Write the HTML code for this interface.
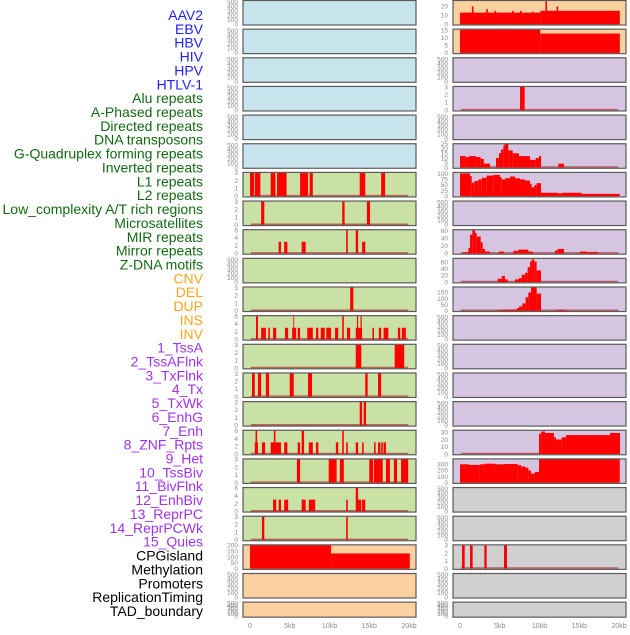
<!DOCTYPE html>
<html><head><meta charset="utf-8">
<style>
html,body{margin:0;padding:0;background:#fff;}
body{width:630px;height:630px;overflow:hidden;font-family:"Liberation Sans",sans-serif;}
</style></head>
<body>
<svg id="chart" width="630" height="630" xmlns="http://www.w3.org/2000/svg" font-family="Liberation Sans, sans-serif"></svg>
<script>
const labels = ["AAV2","EBV","HBV","HIV","HPV","HTLV-1","Alu repeats","A-Phased repeats","Directed repeats","DNA transposons","G-Quadruplex forming repeats","Inverted repeats","L1 repeats","L2 repeats","Low_complexity A/T rich regions","Microsatellites","MIR repeats","Mirror repeats","Z-DNA motifs","CNV","DEL","DUP","INS","INV","1_TssA","2_TssAFlnk","3_TxFlnk","4_Tx","5_TxWk","6_EnhG","7_Enh","8_ZNF_Rpts","9_Het","10_TssBiv","11_BivFlnk","12_EnhBiv","13_ReprPC","14_ReprPCWk","15_Quies","CPGisland","Methylation","Promoters","ReplicationTiming","TAD_boundary"];
const groupOf = ["v","v","v","v","v","v","r","r","r","r","r","r","r","r","r","r","r","r","r","s","s","s","s","s","c","c","c","c","c","c","c","c","c","c","c","c","c","c","c","o","o","o","o","o"];
const xTickLabels = ["0","5kb","10kb","15kb","20kb"];
const xTickValues = [0,5,10,15,20];
const emptyTicks = [0,100,200,300,400,500];
const ticks3 = [0,1,2,3];
const ticks6 = [0,2,4,6];
// bars: [startKb, endKb, count]
const barsAlu = [[0,0.5,3],[0.6,1.3,3],[2.6,3.2,3],[3.4,4.6,3],[6.3,7.3,3],[7.5,7.9,3],[13.8,14.5,3],[16.5,17.0,3]];
const barsAPhased = [[1.4,1.8,3],[11.6,11.9,3],[14.7,15.1,3]];
const barsDirected = [[3.6,3.9,3],[4.3,4.7,3],[6.5,7.0,3],[12.1,12.3,6],[13.3,13.6,6],[14.1,14.5,3]];
const barsGQuad = [[12.6,13.0,3]];
const barsInverted = [[0.75,1.0,6],[1.4,2.0,3],[2.3,2.5,3],[2.9,3.3,3],[4.4,4.8,3],[5.3,5.8,3],[5.45,5.55,6],[6.0,6.3,3],[7.2,7.9,3],[8.3,8.6,3],[8.9,9.4,3],[9.6,10.2,3],[10.7,11.1,3],[11.6,11.8,6],[12.2,12.6,3],[13.3,14.1,3],[13.45,13.6,6],[13.9,14.05,6],[15.4,15.6,3],[16.2,16.5,3],[16.8,17.4,3],[18.6,18.9,3],[19.1,19.6,3]];
const barsL1 = [[13.3,14.0,3],[18.2,19.4,3]];
const barsL2 = [[0.25,0.6,3],[1.0,1.4,3],[2.0,2.4,3],[5.0,5.5,3],[7.3,7.8,3],[14.5,14.8,3],[16.1,16.5,3]];
const barsLowComplex = [[13.8,14.1,3],[14.3,14.6,3]];
const barsMicrosat = [[0.6,1.0,3],[0.7,0.9,6],[1.5,1.9,3],[2.6,3.9,3],[3.0,3.2,6],[4.3,4.7,3],[6.0,6.3,3],[6.5,6.8,6],[7.4,7.9,3],[8.3,8.6,3],[10.8,11.1,3],[11.6,11.8,6],[12.1,12.3,3],[13.3,13.6,3],[14.1,14.3,3],[15.6,15.8,3],[16.1,16.4,3],[16.5,16.7,3],[16.8,17.1,3]];
const barsMIR = [[5.9,6.3,3],[9.9,10.9,3],[11.3,11.8,3],[15.0,15.5,3],[15.6,16.7,3],[17.1,17.6,3],[18.1,18.5,3],[19.0,19.9,3]];
const barsMirror = [[2.9,3.3,3],[3.6,3.9,3],[4.3,4.8,3],[6.5,7.0,3],[7.4,8.2,3],[12.1,12.3,3],[13.3,13.6,6],[13.6,14.0,3],[14.1,14.5,3]];
const barsZDNA = [[1.5,1.8,3],[12.1,12.3,3]];
const barsCNV = [[0,10.2,200],[10.2,20.1,130]];
const barsINS = [[0,10.1,13],[10.1,20.1,15],[1.5,1.7,20],[3.3,3.5,17],[4.35,4.55,15],[6.55,6.75,15],[7.55,7.75,15],[9.05,9.25,14],[10.75,10.95,26],[12.15,12.35,20]];
const barsINV = [[0,10.1,15.4],[10.1,20.1,12.8]];
const barsTssAFlnk = [[7.55,8.13,3]];
const barsTx = [[0,0.71,12],[0.71,1.13,11],[1.13,2.0,12],[2.0,2.6,11],[2.6,3.0,9],[3.0,3.77,4],[4.53,4.9,10],[4.9,5.16,15],[5.16,5.45,19],[5.45,5.6,23],[5.6,6.08,25],[6.08,6.62,18],[6.62,7.42,15],[7.42,8.8,12],[8.8,9.52,8],[9.52,9.94,10],[9.94,10.2,12],[12.37,13.08,4]];
const barsTxWk = [[0,1.26,102],[1.26,1.47,90],[1.47,1.8,60],[1.8,2.3,68],[2.3,2.73,75],[2.73,3.35,82],[3.35,4.19,92],[4.19,5.03,95],[5.03,5.24,85],[5.24,5.66,75],[5.66,6.29,80],[6.29,6.92,88],[6.92,7.55,80],[7.55,8.18,75],[8.18,8.8,70],[8.8,9.01,55],[9.01,9.35,40],[9.35,9.64,50],[9.64,10.19,58],[10.19,12.37,15],[12.37,12.79,12],[12.79,15.3,15],[15.3,20.1,10]];
const barsEnh = [[0.42,1.05,3],[1.05,1.26,15],[1.26,1.55,50],[1.55,1.89,62],[1.89,2.1,55],[2.1,2.6,45],[2.6,2.85,30],[2.85,3.14,12],[3.14,3.77,5],[4.9,5.53,5],[6.7,7.34,7],[7.34,7.76,10],[7.76,8.6,10],[8.6,9.14,5],[11.95,12.28,8],[12.28,13.08,12],[15.1,15.93,5],[15.93,17.4,4]];
const barsZNF = [[4.74,5.24,10],[5.24,5.66,18],[5.66,6.0,8],[6.92,7.42,8],[7.42,7.76,12],[7.76,8.18,22],[8.18,8.51,28],[8.51,8.8,45],[8.8,9.01,62],[9.01,9.35,68],[9.35,9.64,62],[9.64,10.19,35]];
const barsHet = [[4.74,5.24,5],[5.24,6.08,8],[6.08,7.13,10],[7.13,7.42,20],[7.42,7.84,35],[7.84,8.26,60],[8.26,8.6,110],[8.6,8.93,150],[8.93,9.64,190],[9.64,10.19,140],[12.16,13.2,8]];
const barsReprPCWk = [[9.94,10.2,28],[10.2,10.69,31],[10.69,11.82,29],[11.82,12.07,23],[12.07,12.79,20],[12.79,13.33,23],[13.33,18.87,26],[18.87,20.13,29]];
const barsQuies = [[0,1.13,300],[1.13,2.5,290],[2.5,3.14,300],[3.14,4.4,310],[4.4,5.66,300],[5.66,7.25,305],[7.25,7.68,285],[7.68,8.18,265],[8.18,8.6,245],[8.6,8.93,200],[8.93,9.43,150],[9.43,9.94,175],[9.94,20.1,380]];
const barsPromoters = [[0.25,0.59,3],[1.26,1.59,3],[3.06,3.35,3],[5.53,5.91,3]];

const E = null;
// per panel: [bars, ticks, ymax]  (column-major: left 22, right 22)
const panelBars = [E,E,E,E,E,E,barsAlu,barsAPhased,barsDirected,E,barsGQuad,barsInverted,barsL1,barsL2,barsLowComplex,barsMicrosat,barsMIR,barsMirror,barsZDNA,barsCNV,E,E,
  barsINS,barsINV,E,barsTssAFlnk,E,barsTx,barsTxWk,E,barsEnh,barsZNF,barsHet,E,E,E,E,barsReprPCWk,barsQuies,E,E,barsPromoters,E,E];
const panelTicks = [E,E,E,E,E,E,ticks3,ticks3,ticks6,E,ticks3,ticks6,ticks3,ticks3,ticks3,ticks6,ticks3,ticks6,ticks3,[0,50,100,150,200],E,E,
  [0,10,20],[0,5,10,15],E,ticks3,E,[0,5,10,15,20,25],[0,25,50,75,100],E,[0,20,40,60],[0,20,40,60],[0,50,100,150],E,E,E,E,[0,10,20,30],[0,100,200,300],E,E,ticks3,E,E];
const panelMax = [E,E,E,E,E,E,3,3,6,E,3,6,3,3,3,6,3,6,3,200,E,E,
  26,15.4,E,3,E,24.5,104,E,62,70,190,E,E,E,E,32,380,E,E,3,E,E];

const svg = document.getElementById('chart');
const NS = 'http://www.w3.org/2000/svg';
function mk(tag, attrs, parent){ const el=document.createElementNS(NS,tag); for(const k in attrs) el.setAttribute(k,attrs[k]); (parent||svg).appendChild(el); return el; }

const labelColors = {v:'#1f1fff',r:'#126b12',s:'#ffa520',c:'#a033ee',o:'#000000'};
labels.forEach((t,j)=>{
  const el = mk('text',{x:203,y:15+j*13.86+5,'text-anchor':'end','font-size':'14',fill:labelColors[groupOf[j]]});
  el.textContent = t;
  
  
});

function bgColor(col,row){
  if(col===0){ if(row<6) return '#c8e4ec'; if(row<19) return '#c9e1a5'; return '#fdd0a0'; }
  if(row<2) return '#fdd0a0'; if(row<17) return '#d6c5e1'; return '#d0d0d0';
}

for(let p=0;p<44;p++){
  const col = p<22?0:1, row = p%22;
  const left = col===0?243:453, w=173;
  const top = row*28.65+0.5, h = row===21?15:24.5;
  const g = mk('g',{});
  
  
  const bg = mk('rect',{x:left,y:top,width:w,height:h,fill:bgColor(col,row)},g);
  
  
  const bars = panelBars[p];
  const ticks = panelTicks[p] || emptyTicks;
  const ymax = panelMax[p] || 520;
  const y0 = top+h-0.8, y1 = top+0.5;
  const ys = v => y0 - (v/ymax)*(y0-y1);
  const xs = kb => left+7 + kb/20*159;
  ticks.forEach(t=>{
    const tl = mk('text',{x:left-5,y:ys(t)+2.3,'text-anchor':'end','font-size':'6.5',fill:'#8a8a8a'},g);
    tl.textContent = String(t);
    
    
  });
  if(bars){
    const base = mk('line',{x1:xs(0.1),x2:xs(19.9),y1:y0-0.5,y2:y0-0.5,stroke:'#b03030','stroke-opacity':'0.7','stroke-width':'1.5'},g);
    
    
    bars.forEach(b=>{
      const r = mk('rect',{x:xs(b[0]),y:ys(b[2]),width:Math.max(0.8,xs(b[1])-xs(b[0])),height:y0-ys(b[2]),fill:'#ff0000'},g);
      
      
    });
  }
  const bd = mk('rect',{x:left,y:top,width:w,height:h,fill:'none',stroke:'#5a5a5a','stroke-width':'1.2'},g);
  
  
}
[243,453].forEach(left=>{
  xTickValues.forEach((v,i)=>{
    const t = mk('text',{x:left+7+v/20*159,y:628,'text-anchor':'middle','font-size':'7',fill:'#8a8a8a'});
    t.textContent = xTickLabels[i];
    
    
  });
});
</script>
</body></html>
